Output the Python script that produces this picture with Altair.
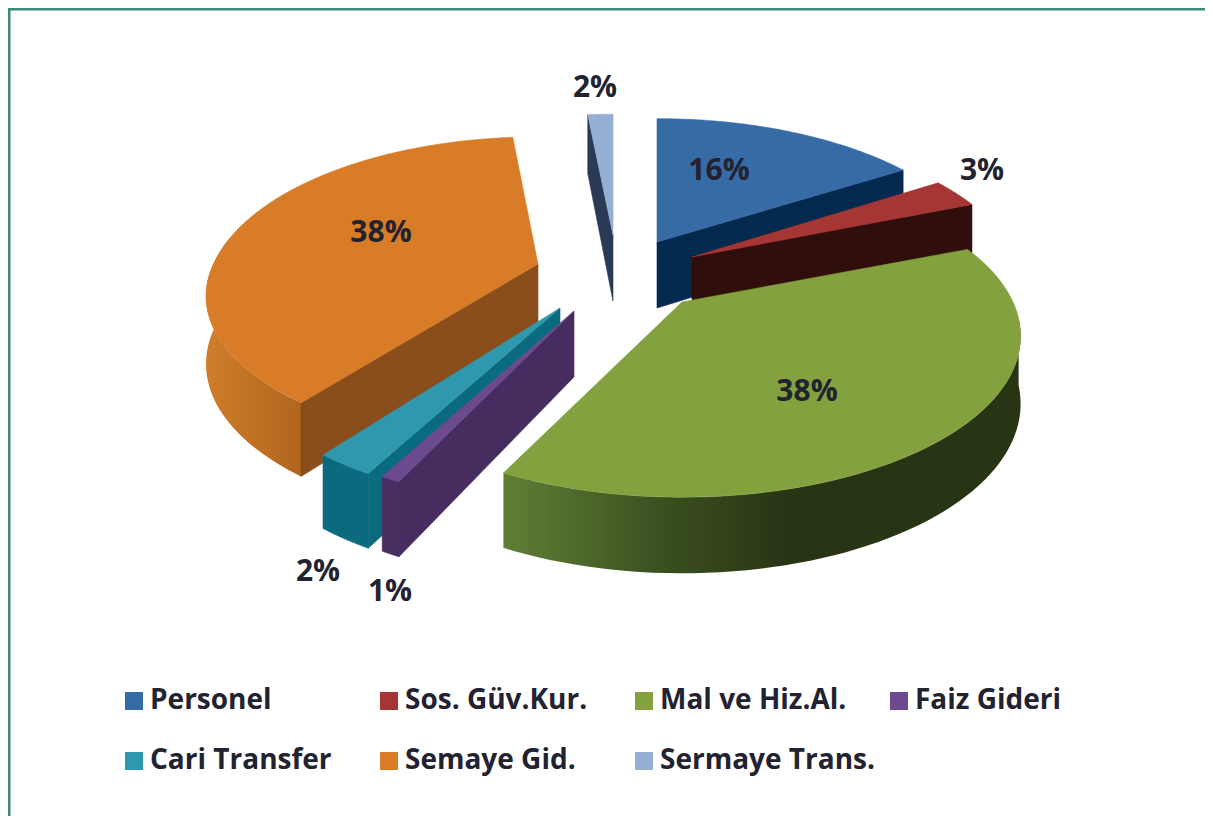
import math
import altair as alt

# ---- data ----
categories = ["Personel", "Sos. Güv.Kur.", "Mal ve Hiz.Al.", "Faiz Gideri",
              "Cari Transfer", "Semaye Gid.", "Sermaye Trans."]
values = [16.0, 3.0, 38.2, 0.8, 2.4, 38.1, 1.5]
pct_labels = ["16%", "3%", "38%", "1%", "2%", "38%", "2%"]
top_colors = ["#376ba6", "#a63633", "#83a23f", "#6d4a8f", "#2f97ae", "#d87c27", "#95aed4"]
wall_colors = ["#04294f", "#2f0e0b", "#283515", "#472c5f", "#0a6a7e", "#8a4d1c", "#2a3a55"]
# the legend fills column by column
legend_order = [0, 4, 1, 5, 2, 6, 3]

# ---- layout of the exploded 3-D pie (page pixels) ----
W, H = 1197, 808
OX, OY = 8, 8
R, RF, K, DEPTH = 324.5, 154.0, 0.211, 66.0
apex = {0: (657, 242), 1: (692, 257), 2: (682, 302), 3: (574, 311),
        4: (560, 308), 5: (538, 264), 6: (613, 235)}
x_factor = {2: 1.02}
y_back = {0: 0.97, 6: 0.95}
y_front = {5: 0.945}
label_xy = {0: (719, 171), 1: (982, 171), 2: (807, 392), 3: (390, 592),
            4: (318, 572), 5: (381, 233), 6: (595, 88)}

x_scale = alt.Scale(domain=[OX, OX + W], range=[0, W], nice=False, zero=False)
y_scale = alt.Scale(domain=[OY, OY + H], range=[0, H], nice=False, zero=False)

# cumulative angles
starts, ends, acc = [], [], 0.0
for v in values:
    starts.append(acc * 3.6)
    acc += v
    ends.append(acc * 3.6)


def proj(i, deg, lower=False):
    t = math.radians(deg)
    c = math.cos(t)
    d = 1 + K * c
    ax, ay = apex[i]
    fy = y_back.get(i, 1.0) if c > 0 else y_front.get(i, 1.0)
    return (ax + x_factor.get(i, 1.0) * R * math.sin(t) / d,
            ay - fy * RF * c / d + (DEPTH / d ** 0.6 if lower else 0))


def apex_pt(i, lower=False):
    ax, ay = apex[i]
    return (ax, ay + (DEPTH if lower else 0))


def polygon(points, fill):
    rows = [{"x": p[0], "y": p[1], "i": n} for n, p in enumerate(points)]
    stroke = fill if isinstance(fill, str) else None
    kw = {"stroke": stroke, "strokeWidth": 0.6} if stroke else {"strokeWidth": 0}
    return alt.Chart(alt.Data(values=rows)).mark_line(
        fill=fill, interpolate="linear-closed", **kw
    ).encode(
        x=alt.X("x:Q", scale=x_scale, axis=None),
        y=alt.Y("y:Q", scale=y_scale, axis=None),
        order=alt.Order("i:Q"),
    )


def arc_pts(i, a, b, lower=False, n=60):
    return [proj(i, a + (b - a) * j / n, lower) for j in range(n + 1)]


def top(i):
    return polygon([apex_pt(i)] + arc_pts(i, starts[i], ends[i]), top_colors[i])


def cut_wall(i, deg):
    return polygon([apex_pt(i), proj(i, deg), proj(i, deg, True), apex_pt(i, True)], wall_colors[i])


def rim_wall(i, a, b, fill):
    return polygon(arc_pts(i, a, b) + arc_pts(i, b, a, True), fill)


green_rim = alt.Gradient(gradient="linear", x1=0, x2=1, y1=0, y2=0, stops=[
    alt.GradientStop(color="#5f7f35", offset=0),
    alt.GradientStop(color="#3c5020", offset=0.3),
    alt.GradientStop(color="#283515", offset=0.55),
    alt.GradientStop(color="#283515", offset=1)])
orange_rim = alt.Gradient(gradient="linear", x1=0, x2=1, y1=0, y2=0, stops=[
    alt.GradientStop(color="#d07c2a", offset=0),
    alt.GradientStop(color="#b0661f", offset=1)])

layers = [
    # Sermaye Trans.
    cut_wall(6, starts[6]), top(6),
    # Personel
    cut_wall(0, ends[0]), top(0),
    # Sos. Guv.Kur.
    cut_wall(1, ends[1]), top(1),
    # Semaye Gid.
    rim_wall(5, starts[5], 280, orange_rim), cut_wall(5, starts[5]), top(5),
    # Cari Transfer
    rim_wall(4, starts[4], ends[4], wall_colors[4]), cut_wall(4, starts[4]), top(4),
    # Faiz Gideri
    rim_wall(3, starts[3], ends[3], "#4a2e62"), cut_wall(3, starts[3]), top(3),
    # Mal ve Hiz.Al.
    rim_wall(2, 96, starts[3], green_rim), top(2),
]

label_rows = [{"x": label_xy[i][0], "y": label_xy[i][1], "t": pct_labels[i]}
              for i in range(len(values))]
labels = alt.Chart(alt.Data(values=label_rows)).mark_text(
    font="Open Sans", fontWeight="bold", fontSize=30, color="#222230",
    align="center", baseline="middle"
).encode(
    x=alt.X("x:Q", scale=x_scale, axis=None),
    y=alt.Y("y:Q", scale=y_scale, axis=None),
    text="t:N",
)

legend_rows = [{"cat": c} for c in categories]
legend_layer = alt.Chart(alt.Data(values=legend_rows)).mark_square(size=0).encode(
    color=alt.Color(
        "cat:N",
        scale=alt.Scale(domain=[categories[j] for j in legend_order],
                        range=[top_colors[j] for j in legend_order]),
        title=None,
        legend=alt.Legend(
            orient="none", legendX=112, legendY=679, columns=4, gridAlign="all",
            columnPadding=10, rowPadding=32, symbolType="square", symbolSize=324,
            symbolStrokeWidth=0, symbolOpacity=1, labelOpacity=1, labelOffset=2,
            labelFont="Open Sans", labelFontWeight="bold", labelFontSize=28,
            labelColor="#222230", labelLimit=400,
        ),
    )
)

border = alt.Chart(alt.Data(values=[{"a": 0}])).mark_rule(
    color="#3d8a78", strokeWidth=3
)
border_left = border.encode(x=alt.value(1), y=alt.value(0), y2=alt.value(H))
border_top = border.encode(y=alt.value(1), x=alt.value(0), x2=alt.value(W))

chart = alt.layer(*layers, labels, legend_layer, border_left, border_top).properties(
    width=W, height=H, padding=0,
    autosize=alt.AutoSizeParams(type="none"),
    background="#ffffff",
).configure_view(stroke=None)

chart.save("out.html", embed_options={"renderer": "svg", "actions": False})
